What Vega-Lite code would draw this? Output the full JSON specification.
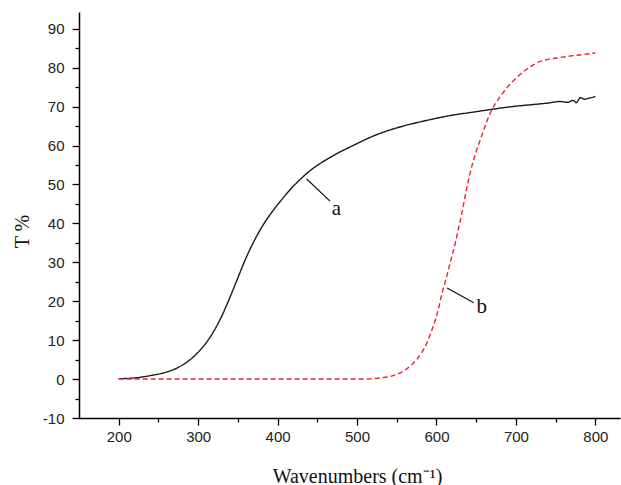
{
  "$schema": "https://vega.github.io/schema/vega-lite/v6.json",
  "width": 541,
  "height": 406,
  "autosize": {"type": "none"},
  "padding": {"left": 79, "top": 12, "right": 1, "bottom": 67},
  "background": "white",
  "config": {
    "view": {"stroke": null},
    "axis": {
      "grid": false,
      "domainColor": "#000",
      "tickColor": "#000",
      "labelColor": "#222",
      "labelFont": "Liberation Sans",
      "labelFontSize": 15,
      "titleFont": "Liberation Serif",
      "titleFontWeight": "normal",
      "titleColor": "#111",
      "titleFontSize": 20,
      "domainWidth": 1.5,
      "tickWidth": 1.3
    }
  },
  "datasets": {
    "curves": [
      {"w": 200, "t": 0.1, "s": "a"},
      {"w": 220, "t": 0.3, "s": "a"},
      {"w": 240, "t": 0.9, "s": "a"},
      {"w": 260, "t": 1.8, "s": "a"},
      {"w": 275, "t": 3.0, "s": "a"},
      {"w": 290, "t": 5.0, "s": "a"},
      {"w": 300, "t": 6.9, "s": "a"},
      {"w": 310, "t": 9.3, "s": "a"},
      {"w": 320, "t": 12.4, "s": "a"},
      {"w": 330, "t": 16.3, "s": "a"},
      {"w": 340, "t": 21.0, "s": "a"},
      {"w": 350, "t": 26.0, "s": "a"},
      {"w": 360, "t": 31.0, "s": "a"},
      {"w": 370, "t": 35.3, "s": "a"},
      {"w": 380, "t": 39.0, "s": "a"},
      {"w": 390, "t": 42.1, "s": "a"},
      {"w": 400, "t": 44.8, "s": "a"},
      {"w": 410, "t": 47.3, "s": "a"},
      {"w": 420, "t": 49.6, "s": "a"},
      {"w": 430, "t": 51.6, "s": "a"},
      {"w": 440, "t": 53.4, "s": "a"},
      {"w": 450, "t": 54.9, "s": "a"},
      {"w": 460, "t": 56.2, "s": "a"},
      {"w": 470, "t": 57.4, "s": "a"},
      {"w": 480, "t": 58.5, "s": "a"},
      {"w": 490, "t": 59.5, "s": "a"},
      {"w": 500, "t": 60.5, "s": "a"},
      {"w": 520, "t": 62.4, "s": "a"},
      {"w": 540, "t": 63.9, "s": "a"},
      {"w": 560, "t": 65.1, "s": "a"},
      {"w": 580, "t": 66.1, "s": "a"},
      {"w": 600, "t": 67.0, "s": "a"},
      {"w": 620, "t": 67.8, "s": "a"},
      {"w": 640, "t": 68.4, "s": "a"},
      {"w": 660, "t": 69.0, "s": "a"},
      {"w": 680, "t": 69.6, "s": "a"},
      {"w": 700, "t": 70.1, "s": "a"},
      {"w": 720, "t": 70.5, "s": "a"},
      {"w": 740, "t": 70.9, "s": "a"},
      {"w": 755, "t": 71.3, "s": "a"},
      {"w": 765, "t": 71.1, "s": "a"},
      {"w": 772, "t": 71.6, "s": "a"},
      {"w": 776, "t": 71.0, "s": "a"},
      {"w": 781, "t": 72.3, "s": "a"},
      {"w": 786, "t": 71.9, "s": "a"},
      {"w": 793, "t": 72.2, "s": "a"},
      {"w": 800, "t": 72.6, "s": "a"},
      {"w": 200, "t": 0.0, "s": "b"},
      {"w": 300, "t": 0.0, "s": "b"},
      {"w": 400, "t": 0.0, "s": "b"},
      {"w": 500, "t": 0.0, "s": "b"},
      {"w": 516, "t": 0.05, "s": "b"},
      {"w": 530, "t": 0.3, "s": "b"},
      {"w": 542, "t": 0.7, "s": "b"},
      {"w": 550, "t": 1.2, "s": "b"},
      {"w": 558, "t": 2.0, "s": "b"},
      {"w": 566, "t": 3.2, "s": "b"},
      {"w": 575, "t": 5.0, "s": "b"},
      {"w": 582, "t": 7.0, "s": "b"},
      {"w": 588, "t": 9.3, "s": "b"},
      {"w": 594, "t": 12.5, "s": "b"},
      {"w": 599, "t": 15.5, "s": "b"},
      {"w": 603, "t": 18.5, "s": "b"},
      {"w": 607, "t": 22.1, "s": "b"},
      {"w": 611, "t": 25.0, "s": "b"},
      {"w": 615, "t": 28.1, "s": "b"},
      {"w": 620, "t": 32.0, "s": "b"},
      {"w": 624, "t": 35.2, "s": "b"},
      {"w": 628, "t": 39.0, "s": "b"},
      {"w": 632, "t": 42.7, "s": "b"},
      {"w": 637, "t": 48.0, "s": "b"},
      {"w": 643, "t": 53.5, "s": "b"},
      {"w": 650, "t": 58.5, "s": "b"},
      {"w": 656, "t": 62.0, "s": "b"},
      {"w": 663, "t": 66.0, "s": "b"},
      {"w": 670, "t": 69.3, "s": "b"},
      {"w": 680, "t": 72.5, "s": "b"},
      {"w": 689, "t": 74.9, "s": "b"},
      {"w": 699, "t": 77.1, "s": "b"},
      {"w": 709, "t": 78.9, "s": "b"},
      {"w": 720, "t": 80.5, "s": "b"},
      {"w": 731, "t": 81.6, "s": "b"},
      {"w": 742, "t": 82.2, "s": "b"},
      {"w": 752, "t": 82.5, "s": "b"},
      {"w": 762, "t": 82.8, "s": "b"},
      {"w": 772, "t": 83.1, "s": "b"},
      {"w": 786, "t": 83.4, "s": "b"},
      {"w": 800, "t": 83.8, "s": "b"}
    ],
    "leaders": [
      {"w": 436.6, "t": 51.4, "w2": 466, "t2": 45.7},
      {"w": 613.3, "t": 23.4, "w2": 646.9, "t2": 19.6}
    ],
    "labels": [
      {"w": 474, "t": 43.6, "label": "a"},
      {"w": 657, "t": 18.4, "label": "b"}
    ]
  },
  "layer": [
    {
      "data": {"name": "curves"},
      "mark": {"type": "line", "strokeWidth": 1.4, "interpolate": "monotone"},
      "encoding": {
        "x": {
          "field": "w", "type": "quantitative",
          "scale": {"domain": [150, 831], "nice": false, "zero": false},
          "axis": {
            "orient": "bottom",
            "values": [200, 300, 400, 500, 600, 700, 800],
            "tickSize": 7, "labelPadding": 4,
            "title": "Wavenumbers (cm⁻¹)", "titlePadding": 22, "titleX": 278
          }
        },
        "y": {
          "field": "t", "type": "quantitative",
          "scale": {"domain": [-10, 94.3], "nice": false, "zero": false},
          "axis": {
            "orient": "left",
            "values": [-10, 0, 10, 20, 30, 40, 50, 60, 70, 80, 90],
            "labelExpr": "'' + datum.value",
            "tickSize": 7, "labelPadding": 8,
            "title": "T %", "titlePadding": 10, "titleY": 219
          }
        },
        "color": {
          "field": "s", "type": "nominal",
          "scale": {"domain": ["a", "b"], "range": ["#1a1a1a", "#e8262e"]},
          "legend": null
        },
        "strokeDash": {
          "field": "s", "type": "nominal",
          "scale": {"domain": ["a", "b"], "range": [[1, 0], [5, 3]]},
          "legend": null
        }
      }
    },
    {
      "data": {"name": "leaders"},
      "mark": {"type": "rule", "color": "#111", "strokeWidth": 1.2},
      "encoding": {
        "x": {"field": "w", "type": "quantitative", "axis": null},
        "y": {"field": "t", "type": "quantitative", "axis": null},
        "x2": {"field": "w2"},
        "y2": {"field": "t2"}
      }
    },
    {
      "data": {"name": "labels"},
      "mark": {"type": "text", "font": "Liberation Serif", "fontSize": 21, "color": "#111", "align": "center", "baseline": "middle"},
      "encoding": {
        "x": {
          "field": "w", "type": "quantitative",
          "axis": {"orient": "bottom", "values": [250, 350, 450, 550, 650, 750], "tickSize": 4, "labels": false, "domain": false, "title": null}
        },
        "y": {
          "field": "t", "type": "quantitative",
          "axis": {"orient": "left", "values": [-5, 5, 15, 25, 35, 45, 55, 65, 75, 85], "tickSize": 4, "labels": false, "domain": false, "title": null}
        },
        "text": {"field": "label"}
      }
    }
  ],
  "resolve": {"axis": {"x": "independent", "y": "independent"}}
}
